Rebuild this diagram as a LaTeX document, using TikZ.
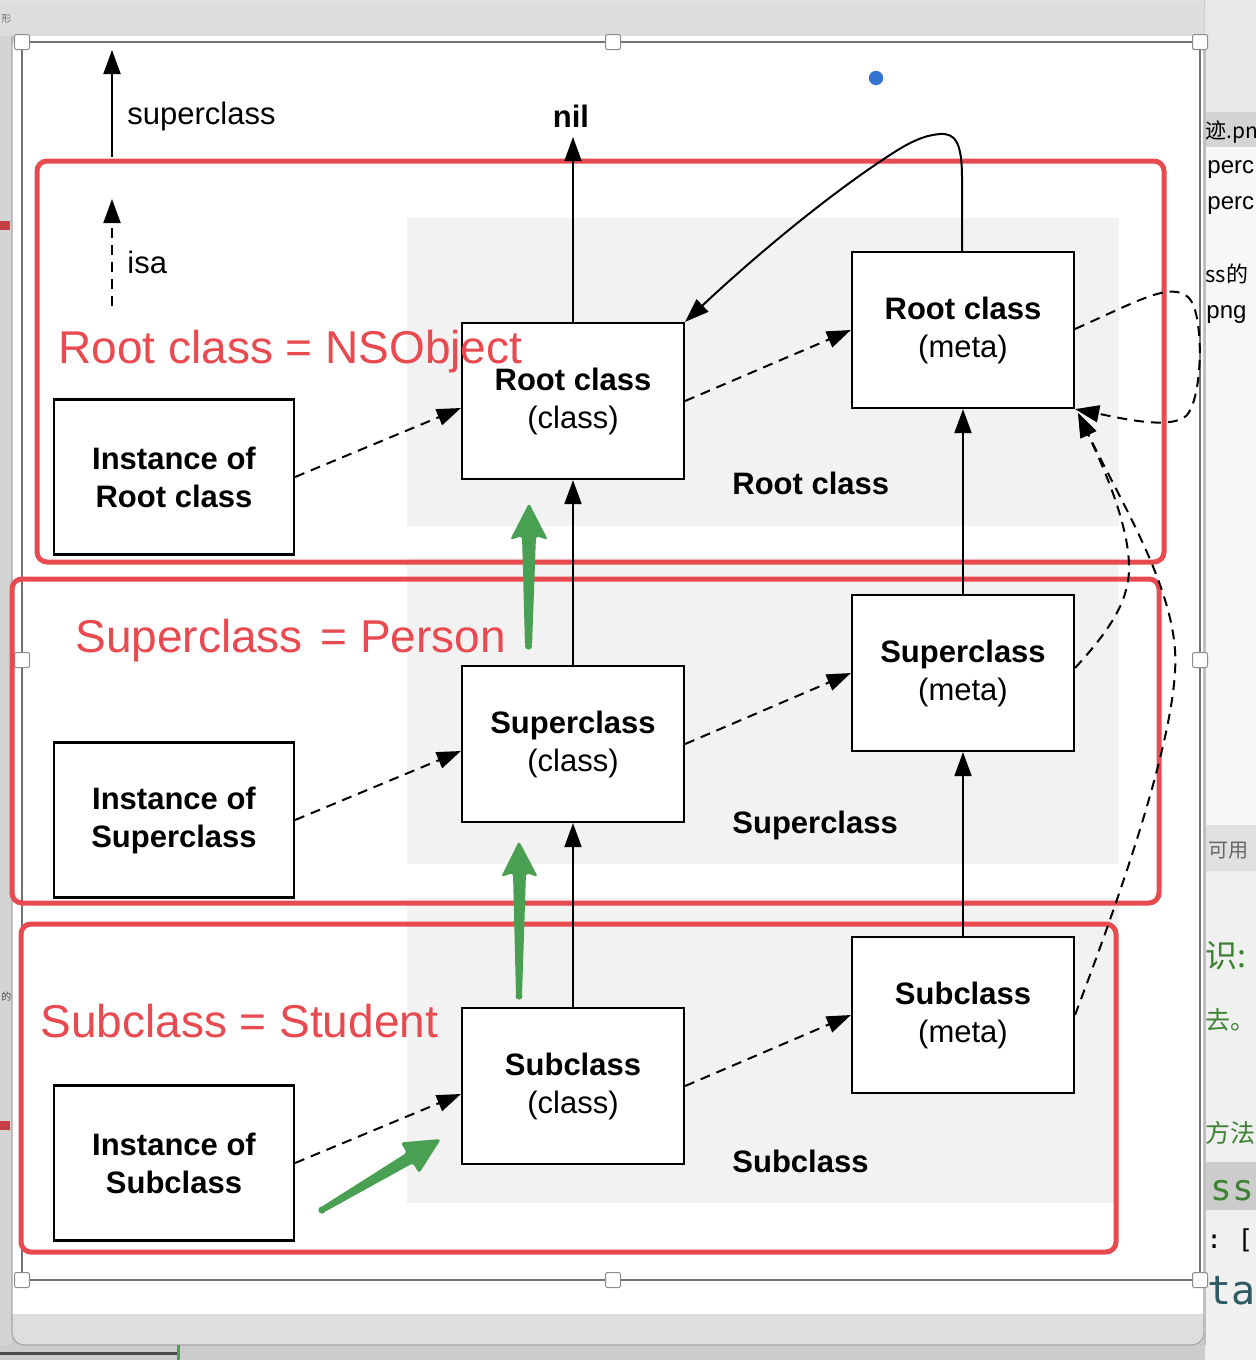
\documentclass[tikz,border=0pt]{standalone}
\usepackage{fontspec}
\setmainfont{Liberation Sans}
\setmonofont{DejaVu Sans Mono}
\newfontfamily\cjk{Noto Sans CJK SC}
\usetikzlibrary{arrows.meta,calc}
\definecolor{redm}{RGB}{232,74,80}
\definecolor{greenm}{RGB}{74,160,82}
\definecolor{bandg}{RGB}{242,242,242}
\definecolor{bluem}{RGB}{53,115,208}
\definecolor{chrome}{RGB}{221,221,221}
\definecolor{cjkgreen}{RGB}{60,130,50}
\definecolor{teal}{RGB}{47,90,100}
\begin{document}
\begin{tikzpicture}[x=0.5pt,y=-0.5pt,
  box/.style={draw=black, fill=white, line width=1.1pt, align=center, inner sep=0pt,
    font=\fontsize{15.5}{19}\selectfont},
  inst/.style={box, minimum width=120pt, minimum height=77.5pt},
  cls/.style={box, minimum width=111pt, minimum height=78pt},
  supa/.style={line width=1pt, -{Triangle[length=12pt,width=8.5pt]}},
  isaa/.style={line width=1pt, dash pattern=on 5pt off 3.5pt, -{Triangle[length=12pt,width=8.5pt]}},
  redbox/.style={draw=redm, line width=2.5pt, rounded corners=5pt},
  redlabel/.style={text=redm, anchor=base west, inner sep=0pt, font=\fontsize{23}{27}\selectfont},
  lbl/.style={anchor=base west, inner sep=0pt, font=\fontsize{15.5}{19}\selectfont},
  handle/.style={draw=black!45, fill=white, line width=0.5pt, minimum size=7.5pt, inner sep=0pt, rounded corners=1pt},
  sidetxt/.style={anchor=base west, inner sep=0pt}
]
\useasboundingbox (0,0) rectangle (1256,1360);
% ---------- window chrome ----------
\fill[black!20] (0,0) rectangle (1256,1360);
\fill[chrome] (0,0) rectangle (1204,36);
\fill[black!12] (0,0) rectangle (1204,3);
\fill[black!17] (0,36) rectangle (12,1345);
\fill[redm!85!black] (0,221) rectangle (10,230);
\fill[redm!85!black] (0,1121) rectangle (10,1130);
\node[sidetxt, font=\cjk\fontsize{5}{6}\selectfont, text=black!55] (lf1) at (1,22) {形};
\node[sidetxt, font=\cjk\fontsize{5}{6}\selectfont, text=black!70] (lf2) at (1,1000) {的};
\fill[white, rounded corners=6pt] (12,36) rectangle (1204,1345);
\fill[black!13] (12,1314) [rounded corners=6pt] -- (12,1345) -- (1204,1345) [sharp corners] -- (1204,1314) -- cycle;
\draw[black!35, line width=0.6pt, rounded corners=6pt] (12,36) -- (12,1345) -- (1204,1345) -- (1204,36);
\draw[black!70, line width=1.5pt] (0,1353) -- (178,1353);
\draw[greenm, line width=1.5pt] (178,1345) -- (178,1360);
% ---------- right window fragments ----------
\begin{scope}
\clip (1205,0) rectangle (1256,1360);
\fill[black!9] (1205,0) rectangle (1256,112);
\fill[black!17] (1205,112) rectangle (1256,147);
\fill[black!3] (1205,147) rectangle (1256,825);
\fill[black!12] (1205,825) rectangle (1256,871);
\fill[black!6] (1205,871) rectangle (1256,1360);
\fill[black!20] (1205,1162) rectangle (1256,1210);
\end{scope}
\node[sidetxt, font=\cjk\fontsize{10.5}{13}\selectfont] (r1) at (1205,138) {迹.pn};
\node[sidetxt, font=\fontsize{12}{14}\selectfont] (r2) at (1207,173) {perc};
\node[sidetxt, font=\fontsize{12}{14}\selectfont] (r3) at (1207,209) {perc};
\node[sidetxt, font=\cjk\fontsize{11}{14}\selectfont] (r4) at (1205,282) {ss的};
\node[sidetxt, font=\fontsize{12}{14}\selectfont] (r5) at (1206,318) {png};
\node[sidetxt, font=\cjk\fontsize{10}{12}\selectfont, text=black!60] (r6) at (1208,857) {可用};
\node[sidetxt, font=\cjk\fontsize{16}{20}\selectfont, text=cjkgreen] (r7) at (1205,967) {识:};
\node[sidetxt, font=\cjk\fontsize{12.5}{16}\selectfont, text=cjkgreen] (r8) at (1205,1029) {去。};
\node[sidetxt, font=\cjk\fontsize{12.5}{16}\selectfont, text=cjkgreen] (r9) at (1205,1142) {方法};
\node[sidetxt, font=\ttfamily\fontsize{18}{20}\selectfont, text=cjkgreen] (r10) at (1210,1200) {ss};
\node[sidetxt, font=\ttfamily\fontsize{13}{16}\selectfont] (r11) at (1206,1248) {: [};
\node[sidetxt, font=\ttfamily\fontsize{20}{22}\selectfont, text=teal] (r12) at (1207,1304) {ta};
\fill[black!25] (1204,36) rectangle (1206,1345);
% ---------- frame ----------
\draw[black!55, line width=0.7pt] (22,42) rectangle (1200,1280);
\foreach \p/\n in {{22,42}/h1,{613,42}/h2,{1200,42}/h3,{22,660}/h4,{1200,660}/h5,{22,1280}/h6,{613,1280}/h7,{1200,1280}/h8}
  \node[handle] (\n) at (\p) {};
% ---------- grey bands ----------
\fill[bandg] (407,218) rectangle (1119,526);
\fill[bandg] (407,558) rectangle (1119,864);
\fill[bandg] (407,898) rectangle (1119,1203);
% ---------- red boxes ----------
\draw[redbox] (37,161) rectangle (1164,562);
\draw[redbox] (12,579) rectangle (1159,903);
\draw[redbox] (21,924) rectangle (1116,1252);
% ---------- blue dot ----------
\fill[bluem] (876,78) circle (3.6pt);
% ---------- legend ----------
\coordinate (lsupS) at (112,157);
\coordinate (lsupE) at (112,50);
\coordinate (lisaS) at (112,306);
\coordinate (lisaE) at (112,199);
\draw[supa] (lsupS) -- (lsupE);
\draw[isaa] (lisaS) -- (lisaE);
\node[lbl] (tsup) at (127,124) {superclass};
\node[lbl] (tisa) at (127,273) {isa};
% ---------- boxes ----------
\node[inst] (iroot) at (174,477) {\textbf{Instance of}\\\textbf{Root class}};
\node[inst] (isup)  at (174,820) {\textbf{Instance of}\\\textbf{Superclass}};
\node[inst] (isub)  at (174,1163) {\textbf{Instance of}\\\textbf{Subclass}};
\node[cls] (croot) at (573,401) {\textbf{Root class}\\(class)};
\node[cls] (csup)  at (573,744) {\textbf{Superclass}\\(class)};
\node[cls] (csub)  at (573,1086) {\textbf{Subclass}\\(class)};
\node[cls] (mroot) at (963,330) {\textbf{Root class}\\(meta)};
\node[cls] (msup)  at (963,673) {\textbf{Superclass}\\(meta)};
\node[cls] (msub)  at (963,1015) {\textbf{Subclass}\\(meta)};
\node[lbl, font=\bfseries\fontsize{15.5}{19}\selectfont] (broot) at (732,494) {Root class};
\node[lbl, font=\bfseries\fontsize{15.5}{19}\selectfont] (bsup) at (732,833) {Superclass};
\node[lbl, font=\bfseries\fontsize{15.5}{19}\selectfont] (bsub) at (732,1172) {Subclass};
\node[anchor=base, inner sep=0pt, font=\bfseries\fontsize{15.5}{19}\selectfont] (nil) at (571,127) {nil};
% ---------- superclass arrows ----------
\draw[supa] (croot.north) -- (573,137);
\draw[supa] (csub.north) -- (csup.south);
\draw[supa] (csup.north) -- (croot.south);
\draw[supa] (msub.north) -- (msup.south);
\draw[supa] (msup.north) -- (mroot.south);
\draw[supa] (962,252) -- (962,178) .. controls (962,142) and (955,133) .. (940,134)
   .. controls (925,135) and (910,142) .. (893,153)
   .. controls (820,200) and (740,270) .. (croot.north east);
% ---------- isa arrows ----------
\draw[isaa] (iroot.east) -- ($(croot.west)+(0,7)$);
\draw[isaa] (isup.east) -- ($(csup.west)+(0,7)$);
\draw[isaa] (isub.east) -- ($(csub.west)+(0,8)$);
\draw[isaa] (croot.east) -- (mroot.west);
\draw[isaa] (csup.east) -- (msup.west);
\draw[isaa] (csub.east) -- (msub.west);
\draw[isaa] (1075,329) .. controls (1140,300) and (1170,282) .. (1188,297)
   .. controls (1205,312) and (1203,400) .. (1186,416)
   .. controls (1170,430) and (1120,418) .. (mroot.south east);
\draw[isaa] (1075,668) .. controls (1110,630) and (1130,600) .. (1129,565)
   .. controls (1128,520) and (1100,460) .. ($(mroot.south east)+(3,4)$);
\draw[isaa] (1075,1015) .. controls (1130,870) and (1180,720) .. (1175,650)
   .. controls (1170,580) and (1120,500) .. ($(mroot.south east)+(3,4)$);
% ---------- red labels ----------
\node[redlabel] (lroot) at (58,363) {Root class = NSObject};
\node[redlabel] (lsup) at (75,652) {Superclass\hspace{8.8pt}= Person};
\node[redlabel] (lsub) at (40,1037) {Subclass = Student};
% ---------- green arrows ----------
\fill[greenm, rounded corners=1.5pt] (525,646) -- (522,536) -- (510,540) -- (529,503) -- (548,540) -- (536,536) -- (532,646) -- cycle;
\fill[greenm] (528.5,646) circle (1.8pt);
\fill[greenm, rounded corners=1.5pt] (516,996) -- (513,873) -- (501,877) -- (519,841) -- (538,877) -- (526,873) -- (522,996) -- cycle;
\fill[greenm] (519,996) circle (1.8pt);
\fill[greenm, rounded corners=1.5pt] (320.5,1207.4) -- (406.8,1152.7) -- (400.7,1142.4) -- (441,1139) -- (419.1,1173.4) -- (413,1163.1) -- (323.5,1212.6) -- cycle;
\fill[greenm] (322,1210) circle (1.8pt);
\end{tikzpicture}
\end{document}
